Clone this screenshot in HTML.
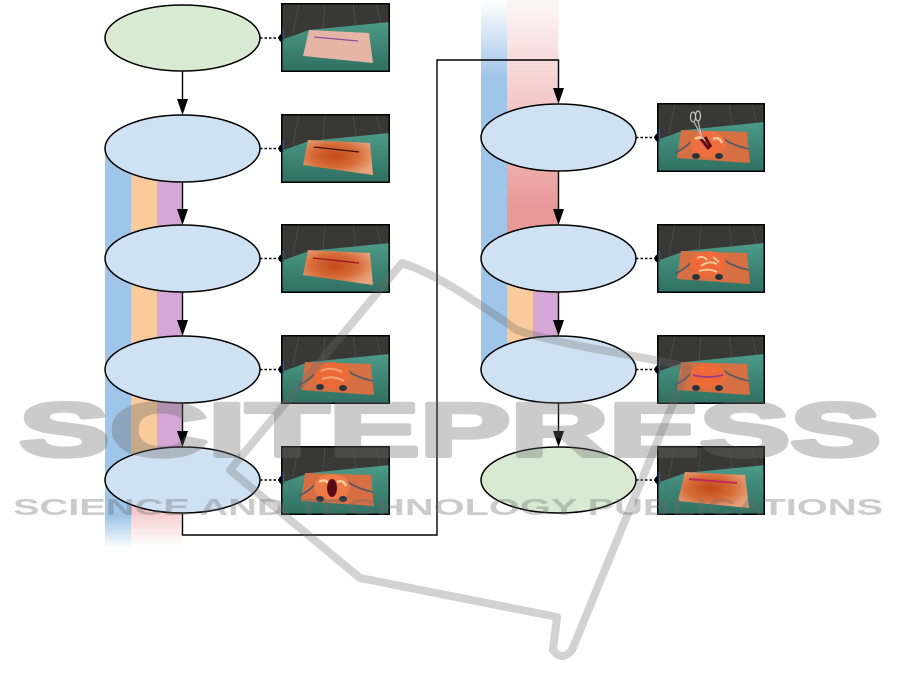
<!DOCTYPE html>
<html><head><meta charset="utf-8"><style>
html,body{margin:0;padding:0;background:#fff;}
svg{display:block;}
</style></head><body>
<svg width="901" height="690" viewBox="0 0 901 690" xmlns="http://www.w3.org/2000/svg">
<defs>
<linearGradient id="fl" x1="0" y1="0" x2="0" y2="1"><stop offset="0" stop-color="#4c9a88"/><stop offset="1" stop-color="#2f6f61"/></linearGradient>
<radialGradient id="po" cx="0.45" cy="0.45" r="0.6"><stop offset="0" stop-color="#c4491b"/><stop offset="0.55" stop-color="#d66c38"/><stop offset="1" stop-color="#e8a27c"/></radialGradient>
<linearGradient id="lblue" x1="0" y1="148" x2="0" y2="548" gradientUnits="userSpaceOnUse"><stop offset="0" stop-color="#9fc5e8"/><stop offset="0.92" stop-color="#9fc5e8"/><stop offset="1" stop-color="#9fc5e8" stop-opacity="0"/></linearGradient>
<linearGradient id="lpink" x1="0" y1="480" x2="0" y2="546" gradientUnits="userSpaceOnUse"><stop offset="0" stop-color="#ea9999"/><stop offset="1" stop-color="#ea9999" stop-opacity="0"/></linearGradient>
<linearGradient id="rblue" x1="0" y1="0" x2="0" y2="370" gradientUnits="userSpaceOnUse"><stop offset="0" stop-color="#9fc5e8" stop-opacity="0"/><stop offset="0.21" stop-color="#9fc5e8"/><stop offset="1" stop-color="#9fc5e8"/></linearGradient>
<linearGradient id="rpink" x1="0" y1="0" x2="0" y2="259" gradientUnits="userSpaceOnUse"><stop offset="0" stop-color="#ea9999" stop-opacity="0.08"/><stop offset="0.8" stop-color="#ea9999"/><stop offset="1" stop-color="#ea9999"/></linearGradient>
</defs>

<!-- bands left -->
<rect x="105" y="148" width="26" height="400" fill="url(#lblue)"/>
<rect x="131" y="148" width="26" height="332" fill="#f9cb9c"/>
<rect x="157" y="148" width="25.5" height="332" fill="#d5a6d6"/>
<rect x="131" y="480" width="51.5" height="68" fill="url(#lpink)"/>
<!-- bands right -->
<rect x="481" y="0" width="26" height="370" fill="url(#rblue)"/>
<rect x="507" y="0" width="51.5" height="259" fill="url(#rpink)"/>
<rect x="507" y="259" width="26" height="110" fill="#f9cb9c"/>
<rect x="533" y="259" width="25.5" height="110" fill="#d5a6d6"/>

<!-- connectors -->
<g stroke="#000" stroke-width="1.4" fill="none">
<path d="M182.5 71V100M182.5 182V210M182.5 292V321M182.5 403V432"/>
<path d="M182.5 513V535H437V60H558.5V89"/>
<path d="M558.5 171V210M558.5 292V321M558.5 403V432"/>
</g>
<g fill="#000">
<path d="M177 99H188L182.5 115Z"/><path d="M177 209H188L182.5 225Z"/><path d="M177 320H188L182.5 336Z"/><path d="M177 431H188L182.5 447Z"/>
<path d="M553 88H564L558.5 104Z"/><path d="M553 209H564L558.5 225Z"/><path d="M553 320H564L558.5 336Z"/><path d="M553 431H564L558.5 447Z"/>
</g>
<!-- dotted -->
<g stroke="#000" stroke-width="1.5" stroke-dasharray="2.5 2" fill="none">
<path d="M260 38H281M260 148.5H281M260 258.5H281M260 369.5H281M260 480H281"/>
<path d="M636 137.5H657M636 258.5H657M636 369.5H657M636 480H657"/>
</g>
<g fill="#000">
<circle cx="283" cy="38" r="4.5"/><circle cx="283" cy="148.5" r="4.5"/><circle cx="283" cy="258.5" r="4.5"/><circle cx="283" cy="369.5" r="4.5"/><circle cx="283" cy="480" r="4.5"/>
<circle cx="659" cy="137.5" r="4.5"/><circle cx="659" cy="258.5" r="4.5"/><circle cx="659" cy="369.5" r="4.5"/><circle cx="659" cy="480" r="4.5"/>
</g>

<!-- ellipses -->
<g stroke="#000" stroke-width="1.5">
<ellipse cx="182.5" cy="38" rx="77.5" ry="33" fill="#d9ead3"/>
<ellipse cx="182.5" cy="148.5" rx="77.5" ry="33.5" fill="#cfe2f3"/>
<ellipse cx="182.5" cy="258.5" rx="77.5" ry="33.5" fill="#cfe2f3"/>
<ellipse cx="182.5" cy="369.5" rx="77.5" ry="33.5" fill="#cfe2f3"/>
<ellipse cx="182.5" cy="480" rx="77.5" ry="33" fill="#cfe2f3"/>
<ellipse cx="558.5" cy="137.5" rx="77.5" ry="33.5" fill="#cfe2f3"/>
<ellipse cx="558.5" cy="258.5" rx="77.5" ry="33.5" fill="#cfe2f3"/>
<ellipse cx="558.5" cy="369.5" rx="77.5" ry="33.5" fill="#cfe2f3"/>
<ellipse cx="558.5" cy="480" rx="77.5" ry="33" fill="#d9ead3"/>
</g>

<!-- IMAGE 1 -->
<g transform="translate(281,3)">
<rect width="109" height="69" fill="#383836"/>
<path d="M18 0L12 30M44 0L42 26M72 0L75 22M95 0L100 20" stroke="#4a4a47" stroke-width="1" fill="none"/>
<path d="M0 37L28 27L109 19V69H0Z" fill="url(#fl)"/>
<rect x="0" y="26" width="3" height="12" fill="#2a5a9a"/>
<path d="M28 27L88 30L92 60L22 53Z" fill="#e6b5a6"/>
<path d="M33 34L77 38" stroke="#8c4f9c" stroke-width="1.2"/>
<rect x="0.75" y="0.75" width="107.5" height="67.5" fill="none" stroke="#000" stroke-width="1.5"/>
</g>
<!-- IMAGE 2 -->
<g transform="translate(281,114)">
<rect width="109" height="69" fill="#383836"/>
<path d="M18 0L12 30M44 0L42 26M72 0L75 22M95 0L100 20" stroke="#4a4a47" stroke-width="1" fill="none"/>
<path d="M0 37L28 27L109 19V69H0Z" fill="url(#fl)"/>
<rect x="0" y="26" width="3" height="12" fill="#2a5a9a"/>
<path d="M27 26L89 29L92 61L22 51Z" fill="url(#po)"/>
<path d="M33 33L78 38" stroke="#3a1208" stroke-width="1.2"/>
<rect x="0.75" y="0.75" width="107.5" height="67.5" fill="none" stroke="#000" stroke-width="1.5"/>
</g>
<!-- IMAGE 3 -->
<g transform="translate(281,224)">
<rect width="109" height="69" fill="#383836"/>
<path d="M18 0L12 30M44 0L42 26M72 0L75 22M95 0L100 20" stroke="#4a4a47" stroke-width="1" fill="none"/>
<path d="M0 37L28 27L109 19V69H0Z" fill="url(#fl)"/>
<rect x="0" y="26" width="3" height="12" fill="#2a5a9a"/>
<path d="M27 26L89 29L92 61L22 51Z" fill="url(#po)"/>
<path d="M32 34L78 39" stroke="#9a1020" stroke-width="1.3"/>
<rect x="0.75" y="0.75" width="107.5" height="67.5" fill="none" stroke="#000" stroke-width="1.5"/>
</g>
<!-- IMAGE 4 -->
<g transform="translate(281,335)">
<rect width="109" height="69" fill="#383836"/>
<path d="M18 0L12 30M44 0L42 26M72 0L75 22M95 0L100 20" stroke="#4a4a47" stroke-width="1" fill="none"/>
<path d="M0 37L28 27L109 19V69H0Z" fill="url(#fl)"/>
<rect x="0" y="26" width="3" height="12" fill="#2a5a9a"/>
<path d="M24 27L90 29L93 60L20 55Z" fill="#d66f42"/>
<path d="M18 50Q30 44 36 36M92 46Q74 42 66 35" stroke="#4a5a66" stroke-width="1.6" fill="none"/>
<ellipse cx="51" cy="40" rx="18" ry="13" fill="#ec6a38"/>
<path d="M40 36Q50 31 61 37M41 44Q52 40 63 46" stroke="#f6c090" stroke-width="2" fill="none" opacity=".7"/>
<ellipse cx="39" cy="52" rx="4" ry="3" fill="#2a323a"/><ellipse cx="62" cy="53" rx="4" ry="3" fill="#2a323a"/>
<rect x="0.75" y="0.75" width="107.5" height="67.5" fill="none" stroke="#000" stroke-width="1.5"/>
</g>
<!-- IMAGE 5 -->
<g transform="translate(281,446)">
<rect width="109" height="69" fill="#383836"/>
<path d="M18 0L12 30M44 0L42 26M72 0L75 22M95 0L100 20" stroke="#4a4a47" stroke-width="1" fill="none"/>
<path d="M0 37L28 27L109 19V69H0Z" fill="url(#fl)"/>
<rect x="0" y="26" width="3" height="12" fill="#2a5a9a"/>
<path d="M24 27L90 29L93 60L20 55Z" fill="#d66f42"/>
<path d="M18 50Q30 44 36 36M92 46Q74 42 66 35" stroke="#4a5a66" stroke-width="1.6" fill="none"/>
<ellipse cx="51" cy="41" rx="18" ry="13" fill="#ee7a48"/>
<path d="M38 36Q44 32 48 38M56 36Q62 33 65 40" stroke="#f8e0b0" stroke-width="2.5" fill="none" opacity=".8"/>
<ellipse cx="51" cy="42" rx="5" ry="9" fill="#5a0a10"/>
<ellipse cx="39" cy="53" rx="4" ry="3" fill="#2a323a"/><ellipse cx="62" cy="53" rx="4" ry="3" fill="#2a323a"/>
<rect x="0.75" y="0.75" width="107.5" height="67.5" fill="none" stroke="#000" stroke-width="1.5"/>
</g>

<!-- R IMAGE 1 -->
<g transform="translate(657,103)">
<rect width="108" height="69" fill="#383836"/>
<path d="M18 0L12 30M44 0L42 26M72 0L75 22M95 0L100 20" stroke="#4a4a47" stroke-width="1" fill="none"/>
<path d="M0 37L28 27L108 19V69H0Z" fill="url(#fl)"/>
<rect x="0" y="26" width="3" height="12" fill="#2a5a9a"/>
<path d="M24 27L90 29L93 60L20 55Z" fill="#d66f42"/>
<path d="M18 50Q30 44 36 36M92 46Q74 42 66 35" stroke="#4a5a66" stroke-width="1.6" fill="none"/>
<ellipse cx="51" cy="41" rx="18" ry="13" fill="#ee7040"/>
<path d="M38 36Q44 32 48 38M56 36Q62 33 65 40" stroke="#f8e0b0" stroke-width="2.5" fill="none" opacity=".8"/>
<path d="M44 36L52 46M48 34L54 44" stroke="#5a0a10" stroke-width="3"/>
<ellipse cx="36" cy="14" rx="2.5" ry="5" fill="none" stroke="#c8c8c8" stroke-width="1.2"/>
<ellipse cx="41" cy="13" rx="2.5" ry="5" fill="none" stroke="#c8c8c8" stroke-width="1.2"/>
<path d="M37 19L46 36M41 18L45 36" stroke="#b8b8b8" stroke-width="1.2"/>
<ellipse cx="39" cy="53" rx="4" ry="3" fill="#2a323a"/><ellipse cx="62" cy="53" rx="4" ry="3" fill="#2a323a"/>
<rect x="0.75" y="0.75" width="106.5" height="67.5" fill="none" stroke="#000" stroke-width="1.5"/>
</g>
<!-- R IMAGE 2 -->
<g transform="translate(657,224)">
<rect width="108" height="69" fill="#383836"/>
<path d="M18 0L12 30M44 0L42 26M72 0L75 22M95 0L100 20" stroke="#4a4a47" stroke-width="1" fill="none"/>
<path d="M0 37L28 27L108 19V69H0Z" fill="url(#fl)"/>
<rect x="0" y="26" width="3" height="12" fill="#2a5a9a"/>
<path d="M24 27L90 29L93 60L20 55Z" fill="#d66f42"/>
<path d="M18 50Q30 44 36 36M92 46Q74 42 66 35" stroke="#4a5a66" stroke-width="1.6" fill="none"/>
<ellipse cx="51" cy="40" rx="18" ry="13" fill="#ee6a38"/>
<path d="M40 34Q46 31 50 36M44 42Q52 36 60 40M42 47Q52 44 60 48M56 33L62 38" stroke="#f8d8a8" stroke-width="2" fill="none" opacity=".85"/>
<ellipse cx="39" cy="53" rx="4" ry="3" fill="#2a323a"/><ellipse cx="62" cy="53" rx="4" ry="3" fill="#2a323a"/>
<rect x="0.75" y="0.75" width="106.5" height="67.5" fill="none" stroke="#000" stroke-width="1.5"/>
</g>
<!-- R IMAGE 3 -->
<g transform="translate(657,335)">
<rect width="108" height="69" fill="#383836"/>
<path d="M18 0L12 30M44 0L42 26M72 0L75 22M95 0L100 20" stroke="#4a4a47" stroke-width="1" fill="none"/>
<path d="M0 37L28 27L108 19V69H0Z" fill="url(#fl)"/>
<rect x="0" y="26" width="3" height="12" fill="#2a5a9a"/>
<path d="M24 27L90 29L93 60L20 55Z" fill="#d66f42"/>
<path d="M18 50Q30 44 36 36M92 46Q74 42 66 35" stroke="#4a5a66" stroke-width="1.6" fill="none"/>
<ellipse cx="51" cy="41" rx="18" ry="12" fill="#ee6a38"/>
<path d="M36 40Q51 44 66 40" stroke="#9a3a8a" stroke-width="1.8" fill="none"/>
<ellipse cx="39" cy="53" rx="4" ry="3" fill="#2a323a"/><ellipse cx="62" cy="53" rx="4" ry="3" fill="#2a323a"/>
<rect x="0.75" y="0.75" width="106.5" height="67.5" fill="none" stroke="#000" stroke-width="1.5"/>
</g>
<!-- R IMAGE 4 -->
<g transform="translate(657,446)">
<rect width="108" height="69" fill="#383836"/>
<path d="M18 0L12 30M44 0L42 26M72 0L75 22M95 0L100 20" stroke="#4a4a47" stroke-width="1" fill="none"/>
<path d="M0 37L28 27L108 19V69H0Z" fill="url(#fl)"/>
<rect x="0" y="26" width="3" height="12" fill="#2a5a9a"/>
<path d="M28 26L88 29L92 62L21 55Z" fill="url(#po)"/>
<path d="M32 33L80 37" stroke="#c0285a" stroke-width="2"/>
<rect x="0.75" y="0.75" width="106.5" height="67.5" fill="none" stroke="#000" stroke-width="1.5"/>
</g>

<!-- watermark -->
<g opacity="0.3">
<path d="M360 578L230 470L402 263C440 275 480 305 517 330C560 345 620 352 688 367L572 650Q562 662 553 650L557 617Z" fill="none" stroke="#6a6a6a" stroke-width="8" stroke-linejoin="round"/>
</g>
<g opacity="0.34">
<text x="19" y="456" font-family="Liberation Sans, sans-serif" font-weight="bold" font-size="76" textLength="862" lengthAdjust="spacingAndGlyphs" fill="#6a6a6a" stroke="#6a6a6a" stroke-width="4" stroke-linejoin="round">SCITEPRESS</text>
<text x="13" y="515" font-family="Liberation Sans, sans-serif" font-weight="bold" font-size="23.5" textLength="870" lengthAdjust="spacingAndGlyphs" fill="#6a6a6a">SCIENCE AND TECHNOLOGY PUBLICATIONS</text>
</g>
</svg>
</body></html>
